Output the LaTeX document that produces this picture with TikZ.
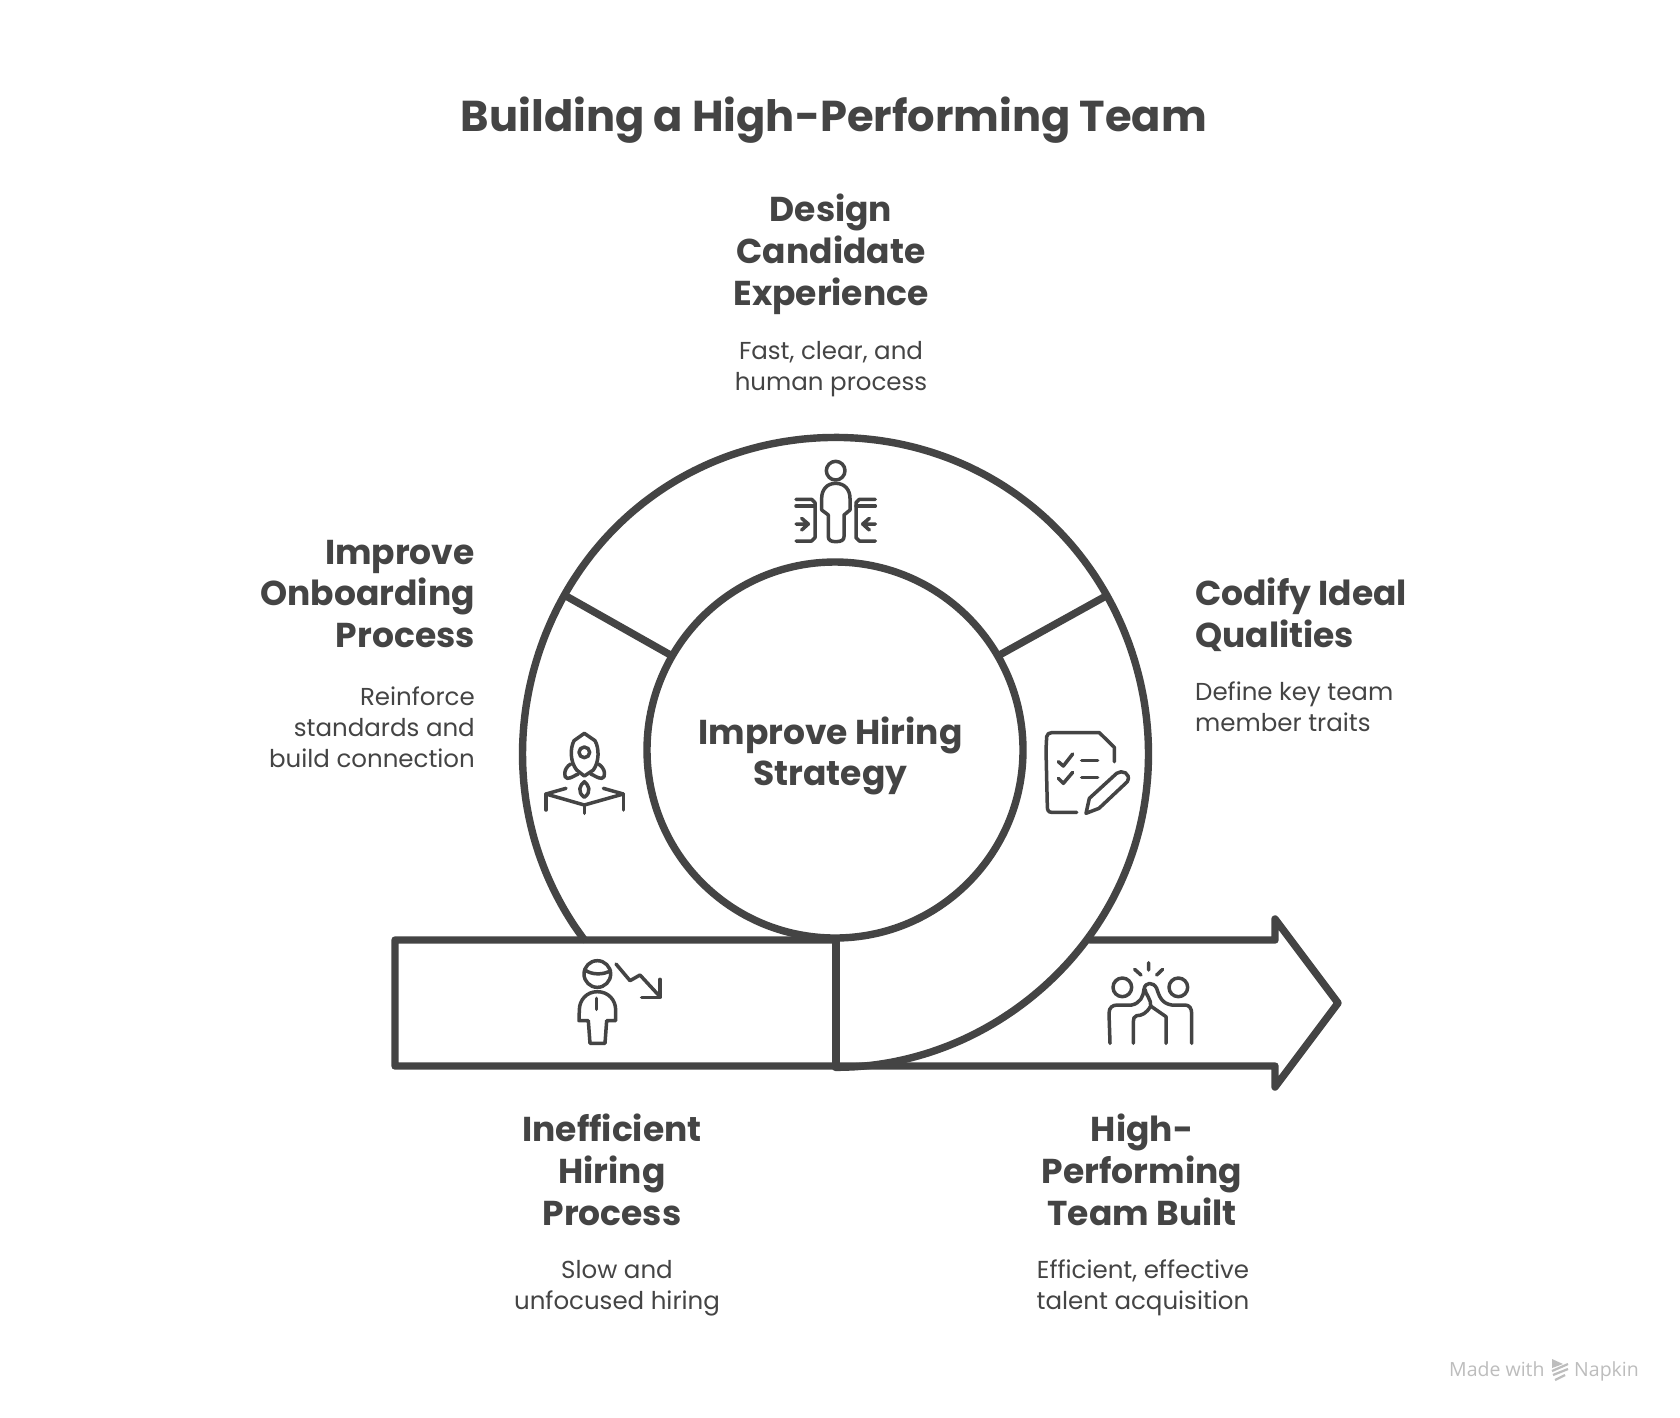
\documentclass[tikz,border=0pt]{standalone}
\usepackage{fontspec}
\setmainfont{Poppins}
\newfontfamily\markfont{Open Sans}
\definecolor{ink}{HTML}{444444}
\definecolor{wmgray}{HTML}{BDBDBD}
\tikzset{
  bigline/.style={draw=ink,line width=7.4pt,line cap=round,line join=round},
  iconline/.style={draw=ink,line width=3.5pt,line cap=round,line join=round},
  titletext/.style={text=ink,inner sep=0pt,font=\fontsize{43.2}{50}\selectfont\bfseries},
  headtext/.style={text=ink,inner sep=0pt,align=center,font=\fontsize{34.5}{41.8}\selectfont\bfseries},
  desctext/.style={text=ink,inner sep=0pt,align=center,font=\fontsize{24.5}{31}\selectfont},
  marktext/.style={text=wmgray,inner sep=0pt,anchor=base west,font=\markfont\fontsize{19.5}{24}\selectfont},
}
\begin{document}
\begin{tikzpicture}[x=1pt,y=-1pt]
\useasboundingbox[fill=white] (0,0) rectangle (1680,1417);
% texts
\node[titletext] (title) at (834,120) {Building a High-Performing Team};
\node[headtext] (h1) at (831,254) {Design\\Candidate\\Experience};
\node[desctext] (d1) at (831,369) {Fast, clear, and\\human process};
\node[headtext,align=right,anchor=east] (h2) at (475,594) {Improve\\Onboarding\\Process};
\node[desctext,align=right,anchor=east] (d2) at (475,727.5) {Reinforce\\standards and\\build connection};
\node[headtext,align=left,anchor=west] (h3) at (1195,615) {Codify Ideal\\Qualities};
\node[desctext,align=left,anchor=west] (d3) at (1195,706.5) {Define key team\\member traits};
\node[headtext] (h4) at (612,1170) {Inefficient\\Hiring\\Process};
\node[desctext] (d4) at (617,1288) {Slow and\\unfocused hiring};
\node[headtext] (h5) at (1142,1170) {High-\\Performing\\Team Built};
\node[desctext] (d5) at (1143,1288) {Efficient, effective\\talent acquisition};
% hub
\node[circle,draw=ink,line width=7.4pt,minimum size=376pt,inner sep=0pt] (hub) at (835,750) {};
\node[headtext] (hubtext) at (830.5,756) {Improve Hiring\\Strategy};
% spiral outer band
\draw[bigline] plot[domain=143.3:450,samples=90,smooth] ({835.5+(314-cos(2*\x)+0.4*sin(5*\x))*cos(\x)},{752+(314-cos(2*\x)+0.4*sin(5*\x))*sin(\x)});
\coordinate (olt) at (566,596);
\coordinate (ort) at (1106,596);
\draw[bigline] (olt) -- (hub.150);
\draw[bigline] (ort) -- (hub.30);
% arrow
\coordinate (a0) at (1090,940);
\coordinate (a1) at (395,940);
\coordinate (a2) at (1275,940);
\coordinate (a3) at (1275,919);
\coordinate (a4) at (1338,1003);
\coordinate (a5) at (1275,1087);
\coordinate (a6) at (1275,1066);
\coordinate (a7) at (395,1066);
\coordinate (a8) at (836,940);
\coordinate (a9) at (836,1066);
\draw[bigline] (a0) -- (a2) -- (a3) -- (a4) -- (a5) -- (a6) -- (a7) -- (a1) -- (a8);
\draw[bigline] (a8) -- (a9);
% icon: candidate
\begin{scope}[shift={(770pt,-440pt)},x=0.3333pt,y=-0.3333pt]
\draw[iconline] (197,92) circle (28);
\draw[iconline] (197,130) .. controls (170,130) and (155,150) .. (155,175) -- (155,210) -- (175,225) -- (175,290) .. controls (175,300) and (182,305) .. (197,305) .. controls (215,305) and (222,300) .. (222,290) -- (222,225) -- (240,210) -- (240,175) .. controls (240,150) and (225,130) .. (197,130) -- cycle;
\draw[iconline] (78,178) -- (125,178) -- (135,188) -- (135,293) -- (125,303) -- (78,303);
\draw[iconline] (78,198) -- (135,198);
\draw[iconline] (78,252) -- (115,252) (95,235) -- (115,252) -- (95,270);
\draw[iconline] (316,178) -- (268,178) -- (258,188) -- (258,293) -- (268,303) -- (316,303);
\draw[iconline] (258,198) -- (316,198);
\draw[iconline] (316,252) -- (278,252) (298,235) -- (278,252) -- (298,270);
\end{scope}
% icon: checklist
\begin{scope}[shift={(1030pt,-710pt)},x=0.3333pt,y=-0.3333pt]
\draw[iconline] (140,307) -- (65,307) .. controls (55,307) and (52,300) .. (52,290) -- (48,120) -- (50,80) .. controls (52,72) and (56,68) .. (65,68) -- (208,68) -- (253,112) -- (253,155);
\draw[iconline] (85,155) -- (100,168) -- (128,132);
\draw[iconline] (85,205) -- (100,220) -- (128,187);
\draw[iconline] (155,151) -- (203,151);
\draw[iconline] (155,203) -- (203,203);
\draw[iconline] (168,310) -- (178,265) -- (260,190) .. controls (275,178) and (305,190) .. (292,215) -- (207,295) -- cycle;
\end{scope}
% icon: rocket
\begin{scope}[shift={(530pt,-720pt)},x=0.3333pt,y=-0.3333pt]
\draw[iconline] (163,40) -- (195,62) .. controls (208,85) and (208,125) .. (190,150) -- (163,168) -- (140,150) .. controls (120,125) and (120,85) .. (132,62) -- cycle;
\draw[iconline] (163,97) circle (16);
\draw[iconline] (122,132) .. controls (100,145) and (100,175) .. (112,175) .. controls (125,175) and (135,165) .. (145,162);
\draw[iconline] (205,132) .. controls (228,145) and (228,175) .. (215,175) .. controls (202,175) and (192,165) .. (182,162);
\draw[iconline] (163,185) .. controls (150,195) and (140,215) .. (163,232) .. controls (186,215) and (176,195) .. (163,185) -- cycle;
\draw[iconline] (108,205) -- (48,222) -- (163,255) -- (280,222) -- (220,205);
\draw[iconline] (48,222) -- (48,270) (163,255) -- (163,280) (280,222) -- (280,270);
\end{scope}
% icon: inefficient person
\begin{scope}[shift={(560pt,-950pt)},x=0.3333pt,y=-0.3333pt]
\draw[iconline] (112,72) circle (40);
\draw[iconline] (75,60) .. controls (95,75) and (130,75) .. (152,62);
\draw[iconline] (112,125) .. controls (80,125) and (58,150) .. (58,180) -- (57,212) -- (85,212) -- (90,280) -- (135,280) -- (140,212) -- (167,212) -- (167,180) .. controls (167,150) and (145,125) .. (112,125) -- cycle;
\draw[iconline] (110,145) -- (110,178);
\draw[iconline] (168,42) -- (210,92) -- (240,75) -- (300,140);
\draw[iconline] (245,142) -- (300,142) -- (300,88);
\end{scope}
% icon: high five
\begin{scope}[shift={(1090pt,-950pt)},x=0.3333pt,y=-0.3333pt]
\draw[iconline] (176,38) -- (176,60) (134,58) -- (153,75) (218,58) -- (200,75);
\draw[iconline] (97,112) circle (28);
\draw[iconline] (265,112) circle (28);
\draw[iconline] (60,280) -- (57,190) .. controls (57,172) and (68,165) .. (82,165) -- (125,165) .. controls (150,160) and (160,140) .. (162,118) .. controls (165,95) and (190,95) .. (200,115) .. controls (208,140) and (215,160) .. (245,165) -- (285,165) .. controls (298,165) and (305,175) .. (305,190) -- (305,280);
\draw[iconline] (165,118) .. controls (165,130) and (185,150) .. (182,168) .. controls (170,190) and (155,197) .. (140,197) .. controls (132,200) and (130,205) .. (130,215) -- (130,280);
\draw[iconline] (182,168) -- (228,200) -- (228,280);
\end{scope}
% watermark
\node[marktext] (made) at (1449,1376) {Made with};
\node[marktext] (nap) at (1574,1376) {Napkin};
\fill[wmgray] (1552,1359) -- (1563,1364) -- (1552,1368) -- cycle;
\draw[wmgray,line width=2.2pt] (1552,1371) -- (1568,1364) (1553,1375) -- (1568,1369) (1555,1380) -- (1565,1375);
\end{tikzpicture}
\end{document}
